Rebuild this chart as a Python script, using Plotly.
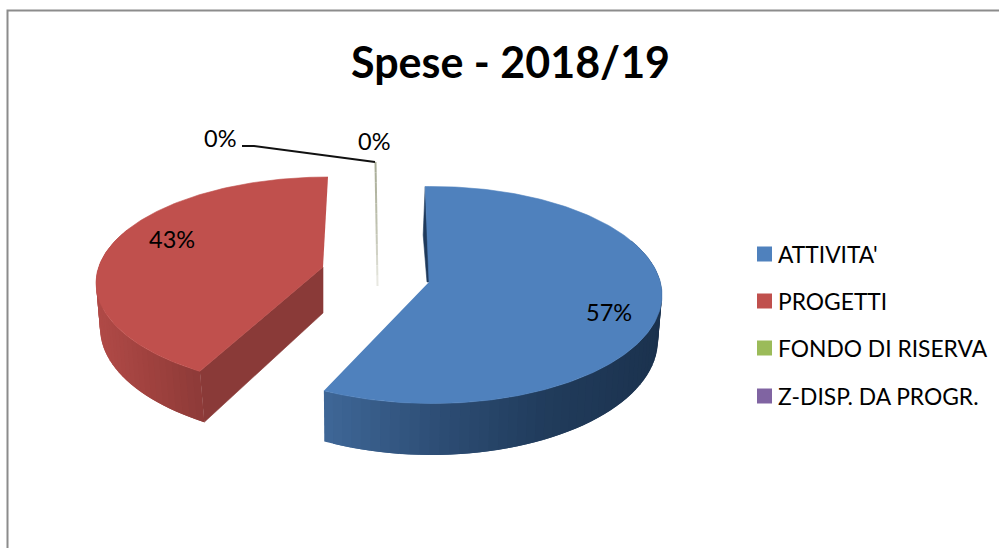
import numpy as np
import plotly.graph_objects as go

title = "Spese - 2018/19"
categories = ["ATTIVITA'", "PROGETTI", "FONDO DI RISERVA", "Z-DISP. DA PROGR."]
values = [57.4, 42.6, 0.0, 0.0]
pct_labels = ["57%", "43%", "0%", "0%"]
colors = ["#4f81bd", "#c0504d", "#9bbb59", "#8064a2"]

FONT = "Lato"

# tilted pie, drawn on a pixel sized axis (plotly has no 3d pie)
BLUE_TOP = (432, 295, 230, 108.5)
BLUE_LOW = (431, 340, 227, 115)
BLUE_APEX = (429, 282)
RED_TOP = (328, 283, 232, 106)
RED_LOW = (333, 328, 233, 113)
RED_APEX = (323, 267)
RED_APEX_LOW = (323, 313)
# perspective widens the near slice and narrows the far one
BLUE_SQUEEZE = 1.015
RED_SQUEEZE = 0.955


def rim(e, deg):
    cx, cy, rx, ry = e
    t = np.radians(deg)
    return cx + rx * np.sin(t), cy - ry * np.cos(t)


def poly(xs, ys, color, width=0.6):
    return go.Scatter(x=list(xs), y=list(ys), mode="lines", fill="toself", fillcolor=color,
                      line=dict(color=color, width=width), hoverinfo="skip", showlegend=False)


def shade(stops, pos):
    xs = [s[0] for s in stops]
    rgb = [np.interp(pos, xs, [s[1][i] for s in stops]) for i in range(3)]
    return "rgb({:.0f},{:.0f},{:.0f})".format(*rgb)


def wall(fig, top, low, a0, a1, n, stops):
    # strips overlap the previous one so no seams show in the gradient
    steps = np.linspace(a0, a1, n)
    for i in range(n - 1):
        deg = np.linspace(steps[i], steps[min(i + 2, n - 1)], 4)
        x1, y1 = rim(top, deg)
        x2, y2 = rim(low, deg[::-1])
        fig.add_trace(poly(np.r_[x1, x2], np.r_[y1, y2], shade(stops, rim(top, steps[i])[0]), width=0))


fig = go.Figure()

# blue side wall
total = sum(values)
blue_start = -1.7
blue_end = blue_start + 360 * values[0] / total * BLUE_SQUEEZE
blue_stops = [(324, (62, 102, 150)), (440, (44, 76, 115)), (540, (33, 60, 92)), (660, (27, 50, 78))]
wall(fig, BLUE_TOP, BLUE_LOW, blue_end, 60, 60, blue_stops)

# blue inner wall, only a sliver shows
x0, y0 = rim(BLUE_TOP, blue_start)
fig.add_trace(poly([x0, x0 - 2, BLUE_APEX[0] - 2, BLUE_APEX[0] + 1],
                   [y0, 235, BLUE_APEX[1], BLUE_APEX[1]], "#1f3a5c"))

# blue top
deg = np.linspace(blue_start, blue_end, 200)
xs, ys = rim(BLUE_TOP, deg)
fig.add_trace(poly(np.r_[BLUE_APEX[0], xs], np.r_[BLUE_APEX[1], ys], colors[0]))

# red slice
red_start = 360 - 360 * values[1] / total * RED_SQUEEZE
red_stops = [(96, (176, 74, 71)), (150, (158, 65, 62)), (205, (138, 57, 55))]
wall(fig, RED_TOP, RED_LOW, 300, red_start, 40, red_stops)

xa, ya = rim(RED_TOP, red_start)
xb, yb = rim(RED_LOW, red_start)
fig.add_trace(poly([xa, RED_APEX[0], RED_APEX_LOW[0], xb], [ya, RED_APEX[1], RED_APEX_LOW[1], yb], "#8a3a38"))

deg = np.linspace(red_start, 360, 160)
xs, ys = rim(RED_TOP, deg)
fig.add_trace(poly(np.r_[RED_APEX[0], xs], np.r_[RED_APEX[1], ys], colors[1]))

# the two 0% slices collapse to a thin line that fades out
zero_y = np.linspace(162, 286, 13)
zero_x = np.linspace(375.5, 377.5, 13)
zero_shade = [(162, (168, 172, 150)), (230, (196, 198, 182)), (286, (240, 240, 235))]
for i in range(12):
    fig.add_trace(go.Scatter(x=zero_x[i:i + 2], y=zero_y[i:i + 2], mode="lines",
                             line=dict(color=shade(zero_shade, zero_y[i]), width=2),
                             hoverinfo="skip", showlegend=False))

# leader line of the first 0%
fig.add_trace(go.Scatter(x=[242, 254, 375], y=[146, 146, 162], mode="lines",
                         line=dict(color="#111111", width=2), hoverinfo="skip", showlegend=False))

# chart frame
fig.add_trace(go.Scatter(x=[7.5, 7.5, 999], y=[548, 10.5, 10.5], mode="lines",
                         line=dict(color="#8c8c8c", width=2), hoverinfo="skip", showlegend=False))

# legend
legend_y = [254, 301, 348, 396]
for name, col, ly in zip(categories, colors, legend_y):
    fig.add_trace(go.Scatter(x=[764.5], y=[ly], mode="markers",
                             marker=dict(symbol="square", size=15, color=col, line=dict(width=0)),
                             name=name, hoverinfo="name", showlegend=False))
    fig.add_annotation(x=775.5, y=ly, text=name, showarrow=False, xanchor="left", yanchor="middle",
                       font=dict(family=FONT, size=22.8, color="#000000"))

# pct labels
label_x = [609, 172, 220, 374]
label_y = [312, 239, 138, 141]
for t, lx, ly in zip(pct_labels, label_x, label_y):
    fig.add_annotation(x=lx, y=ly, text=t, showarrow=False,
                       font=dict(family=FONT, size=23.5, color="#000000"))

fig.add_annotation(x=510, y=61, text="<b>" + title + "</b>", showarrow=False,
                   font=dict(family=FONT, size=43, color="#000000"))

fig.update_xaxes(range=[0, 999], visible=False, fixedrange=True)
fig.update_yaxes(range=[548, 0], visible=False, fixedrange=True)
fig.update_layout(width=999, height=548, margin=dict(l=0, r=0, t=0, b=0),
                  paper_bgcolor="white", plot_bgcolor="white", showlegend=False)

# page default margin would push the figure 8px off
fig.write_html("out.html", config=dict(displayModeBar=False),
               post_script="document.body.style.margin='0';document.body.style.overflow='hidden';")
